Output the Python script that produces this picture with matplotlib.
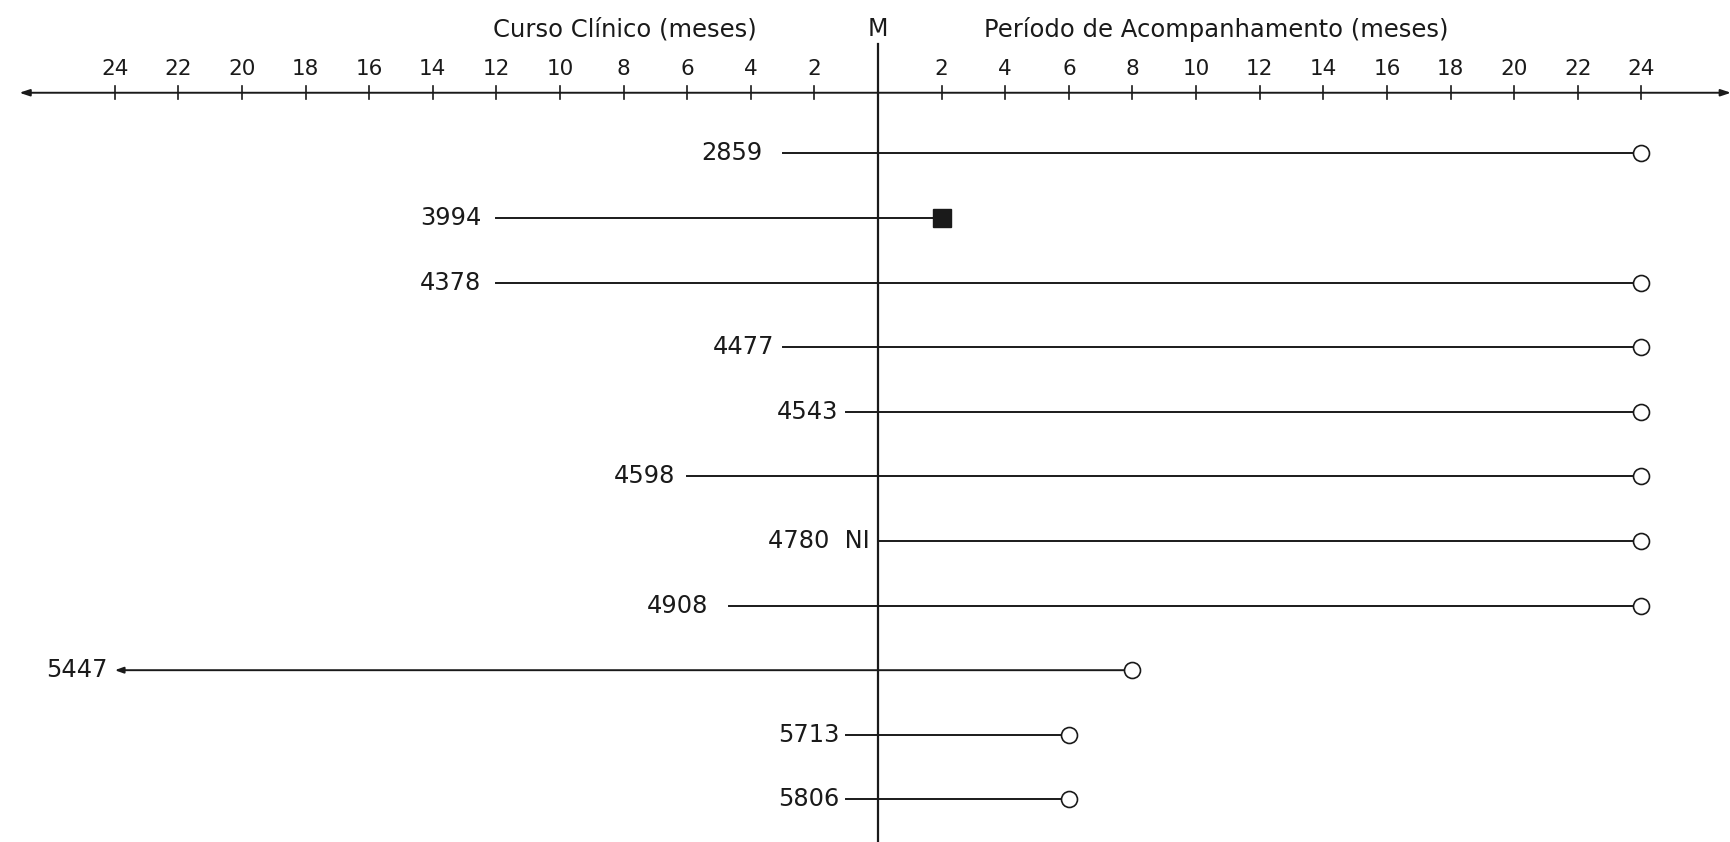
import matplotlib
matplotlib.use("Agg")
import matplotlib.pyplot as plt

# patient records: months of clinical course before M (negative) and follow-up after M
patients = ["2859", "3994", "4378", "4477", "4543", "4598", "4780  NI", "4908", "5447", "5713", "5806"]
start_month = [-3, -12, -12, -3, -1, -6, 0, -4.7, -24, -1, -1]
end_month = [24, 2, 24, 24, 24, 24, 24, 24, 8, 6, 6]
end_marker = ["o", "s", "o", "o", "o", "o", "o", "o", "o", "o", "o"]
start_arrow = [False, False, False, False, False, False, False, False, True, False, False]
label_gap = [20, 15, 15, 8, 8, 12, 8, 20, 7, 7, 7]  # px between label and line start

tick_months = [2, 4, 6, 8, 10, 12, 14, 16, 18, 20, 22, 24]

plt.rcParams["font.family"] = ["DejaVu Sans"]

fig = plt.figure(figsize=(17.31, 8.42), dpi=100)
ax = fig.add_axes([0, 0, 1, 1])
ax.set_xlim(-27.61, 26.82)
ax.set_ylim(10.66, -2.376)
ax.axis("off")

ink = "#1a1a1a"
axis_y = -0.94

# top time axis with arrows both ways
ax.annotate("", xy=(-27.0, axis_y), xytext=(0, axis_y),
            arrowprops=dict(arrowstyle="-|>,head_length=0.6,head_width=0.2", color=ink, lw=1.4, shrinkA=0, shrinkB=0))
ax.annotate("", xy=(26.82, axis_y), xytext=(0, axis_y),
            arrowprops=dict(arrowstyle="-|>,head_length=0.6,head_width=0.2", color=ink, lw=1.4, shrinkA=0, shrinkB=0))
for m in tick_months:
    for side in (-1, 1):
        ax.plot([side * m, side * m], [axis_y - 0.1, axis_y + 0.1], color=ink, lw=1.2)
        ax.text(side * m, axis_y - 0.37, str(m), ha="center", va="center", fontsize=15.5, color=ink)

ax.text(-7.97, -1.92, "Curso Clínico (meses)", ha="center", va="center", fontsize=17.5, color=ink)
ax.text(0, -1.92, "M", ha="center", va="center", fontsize=17, color=ink)
ax.text(10.64, -1.92, "Período de Acompanhamento (meses)", ha="center", va="center", fontsize=17.5, color=ink)

# vertical M line
ax.plot([0, 0], [-1.7, 10.66], color=ink, lw=1.6)

for i, name in enumerate(patients):
    x0, x1 = start_month[i], end_month[i]
    if start_arrow[i]:
        ax.annotate("", xy=(x0, i), xytext=(x1, i),
                    arrowprops=dict(arrowstyle="-|>,head_length=0.5,head_width=0.18", color=ink, lw=1.4,
                                    shrinkA=0, shrinkB=0))
    else:
        ax.plot([x0, x1], [i, i], color=ink, lw=1.4)
    if end_marker[i] == "s":
        ax.plot(x1, i, marker="s", markersize=13.5, color=ink, markeredgecolor=ink, zorder=5)
    else:
        ax.plot(x1, i, marker="o", markersize=11.5, markerfacecolor="white", markeredgecolor=ink,
                markeredgewidth=1.2, zorder=5)
    ax.annotate(name, xy=(x0, i), xytext=(-label_gap[i] * 0.72, 0), textcoords="offset points",
                ha="right", va="center", fontsize=17.4, color=ink)

fig.savefig("out.png", dpi=100, facecolor="white")
